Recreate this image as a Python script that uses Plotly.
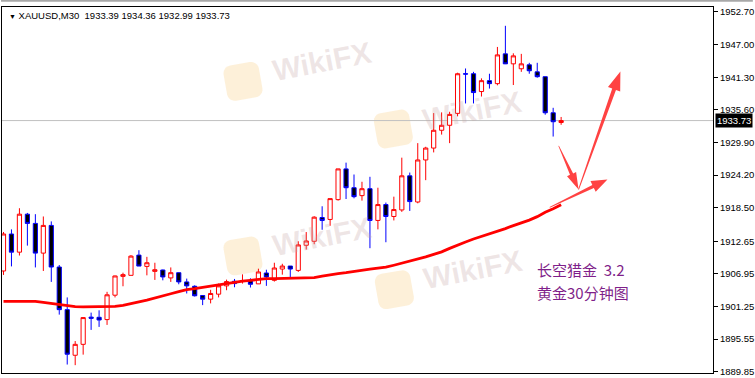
import math
import plotly.graph_objects as go

# ---------------- data ----------------
OPEN = [1907.46, 1913.92, 1910.75, 1917.38, 1915.77, 1910.58, 1915.42, 1908.15, 1900.71, 1892.74,
        1894.65, 1899.40, 1899.37, 1898.97, 1903.23, 1906.52, 1906.70, 1910.23, 1908.26, 1907.39,
        1907.63, 1906.25, 1907.16, 1905.55, 1904.79, 1903.18, 1902.54, 1903.41, 1904.86, 1905.66,
        1905.61, 1905.78, 1905.21, 1907.11, 1905.83, 1907.80, 1908.32, 1907.56, 1911.95, 1912.65,
        1916.80, 1916.46, 1919.92, 1925.29, 1922.00, 1920.62, 1921.83, 1916.29, 1919.06, 1916.98,
        1918.12, 1924.08, 1919.51, 1926.85, 1928.93, 1932.04, 1932.91, 1934.99, 1941.91, 1941.91,
        1938.80, 1940.70, 1940.18, 1945.38, 1943.64, 1942.78, 1943.47, 1942.24, 1941.39, 1935.09,
        1933.39]
HIGH = [1914.27, 1914.73, 1918.42, 1917.60, 1917.38, 1916.98, 1916.12, 1908.50, 1902.84, 1895.22,
        1899.40, 1900.19, 1900.59, 1903.82, 1906.65, 1907.16, 1910.23, 1911.09, 1909.93, 1908.90,
        1907.70, 1908.08, 1907.20, 1906.13, 1904.96, 1903.20, 1904.17, 1905.26, 1905.95, 1906.07,
        1906.87, 1906.18, 1907.86, 1907.68, 1908.90, 1908.72, 1908.32, 1912.65, 1914.26, 1917.03,
        1918.76, 1920.10, 1925.30, 1926.38, 1924.31, 1923.04, 1923.91, 1922.00, 1919.41, 1920.44,
        1927.25, 1924.65, 1929.79, 1929.15, 1935.04, 1935.16, 1935.27, 1942.09, 1942.83, 1942.24,
        1941.10, 1941.91, 1946.59, 1950.28, 1945.48, 1945.38, 1943.82, 1943.82, 1941.40, 1935.96,
        1934.36]
LOW = [1906.77, 1908.26, 1910.16, 1911.89, 1908.08, 1907.46, 1905.55, 1899.84, 1891.12, 1891.01,
       1892.85, 1897.17, 1897.69, 1898.04, 1902.84, 1904.79, 1906.70, 1908.32, 1906.70, 1905.90,
       1905.83, 1905.55, 1905.14, 1903.53, 1903.00, 1901.50, 1901.80, 1902.84, 1904.10, 1904.62,
       1905.26, 1904.57, 1905.20, 1904.86, 1905.61, 1906.82, 1906.30, 1907.29, 1911.20, 1912.13,
       1914.66, 1915.35, 1919.75, 1920.03, 1920.15, 1919.75, 1911.44, 1914.73, 1912.48, 1916.29,
       1917.78, 1917.95, 1919.28, 1923.32, 1928.17, 1931.28, 1929.79, 1934.47, 1936.72, 1936.72,
       1937.93, 1939.32, 1939.89, 1943.60, 1939.94, 1942.24, 1941.91, 1941.22, 1934.75, 1930.94,
       1932.99]
CLOSE = [1913.92, 1910.75, 1917.38, 1915.77, 1910.58, 1915.42, 1908.15, 1900.71, 1892.92, 1894.65,
         1899.32, 1899.20, 1898.90, 1903.30, 1906.59, 1906.82, 1910.06, 1908.32, 1908.90, 1907.68,
         1906.42, 1907.16, 1905.55, 1904.86, 1903.13, 1902.54, 1903.53, 1904.86, 1905.61, 1905.26,
         1905.78, 1905.14, 1907.29, 1906.42, 1907.98, 1908.32, 1907.80, 1912.01, 1912.70, 1916.86,
         1916.29, 1920.10, 1925.29, 1922.00, 1920.44, 1921.83, 1916.29, 1919.06, 1916.98, 1918.19,
         1924.08, 1919.58, 1926.85, 1928.93, 1932.04, 1932.91, 1934.81, 1941.91, 1941.85, 1938.62,
         1940.70, 1940.18, 1945.20, 1943.64, 1945.03, 1943.64, 1942.43, 1941.39, 1935.09, 1933.53,
         1933.73]
MA = [1902.14, 1902.14, 1902.14, 1902.14, 1902.14, 1901.97, 1901.80, 1901.57, 1901.36, 1901.23,
      1901.19, 1901.19, 1901.16, 1901.19, 1901.28, 1901.45, 1901.71, 1902.06, 1902.37, 1902.78,
      1903.13, 1903.48, 1903.87, 1904.22, 1904.39, 1904.62, 1904.86, 1905.09, 1905.35, 1905.48,
      1905.69, 1905.83, 1906.00, 1906.13, 1906.13, 1906.18, 1906.18, 1906.21, 1906.25, 1906.30,
      1906.56, 1906.82, 1906.99, 1907.16, 1907.39, 1907.60, 1907.77, 1907.94, 1908.12, 1908.46,
      1908.81, 1909.24, 1909.59, 1909.93, 1910.37, 1910.80, 1911.41, 1912.01, 1912.53, 1913.05,
      1913.48, 1914.00, 1914.44, 1914.87, 1915.39, 1915.82, 1916.34, 1916.95, 1917.73, 1918.33,
      1919.02]
BARS = list(range(len(OPEN)))

PRICE_TICKS = [1952.70, 1947.00, 1941.30, 1935.60, 1929.90, 1924.20, 1918.50,
               1912.65, 1906.95, 1901.25, 1895.55, 1889.85]
LAST_PRICE = 1933.73
HEADER = "XAUUSD,M30\u00a0\u00a01933.39 1934.36 1932.99 1933.73"
NOTE_LINE1 = "长空猎金\u00a0\u00a03.2"
NOTE_LINE2 = "黄金30分钟图"
WATERMARK = "WikiFX"

# ---------------- geometry helpers (decorations) ----------------
W, H = 755, 378
ML, MR, MT, MB = 1, 40, 7, 2
PW, PH = W - ML - MR, H - MT - MB


def px2paper(x, y):
    return (x - ML) / PW, (H - MB - y) / PH


def poly_path(points):
    pts = [px2paper(x, y) for x, y in points]
    return "M " + " L ".join(f"{a:.5f},{b:.5f}" for a, b in pts) + " Z"


def wedge(x0, y0, x1, y1, w0, w1, hl, hw):
    L = math.hypot(x1 - x0, y1 - y0)
    dx, dy = (x1 - x0) / L, (y1 - y0) / L
    nx, ny = -dy, dx
    bx, by = x1 - dx * hl, y1 - dy * hl
    return [
        (x0 + nx * w0 / 2, y0 + ny * w0 / 2),
        (bx + nx * w1 / 2, by + ny * w1 / 2),
        (bx + nx * hw, by + ny * hw),
        (x1, y1),
        (bx - nx * hw, by - ny * hw),
        (bx - nx * w1 / 2, by - ny * w1 / 2),
        (x0 - nx * w0 / 2, y0 - ny * w0 / 2),
    ]


def rounded_square(cx, cy, s, r, ang):
    pts = []
    h = s / 2 - r
    for (ox, oy, a0) in [(h, -h, -90), (h, h, 0), (-h, h, 90), (-h, -h, 180)]:
        for i in range(7):
            a = math.radians(a0 + i * 15)
            pts.append((ox + r * math.cos(a), oy + r * math.sin(a)))
    ca, sa = math.cos(math.radians(ang)), math.sin(math.radians(ang))
    return [(cx + x * ca - y * sa, cy + x * sa + y * ca) for x, y in pts]


# ---------------- figure ----------------
fig = go.Figure()

fig.add_trace(go.Candlestick(
    x=BARS, open=OPEN, high=HIGH, low=LOW, close=CLOSE,
    increasing=dict(line=dict(color="#FF0000", width=1), fillcolor="#FFFFFF"),
    decreasing=dict(line=dict(color="#0000FF", width=1), fillcolor="#000000"),
    whiskerwidth=0, showlegend=False, hoverinfo="skip",
))

fig.add_trace(go.Scatter(
    x=BARS, y=MA, mode="lines", line=dict(color="#FF0000", width=2.8),
    showlegend=False, hoverinfo="skip",
))

shapes = []
annotations = []

# watermarks
LOGOS = [((243, 82), (322, 62)), ((394, 130), (473, 111)),
         ((243, 258), (322, 238)), ((395, 292), (474, 272))]
for (icx, icy), (tcx, tcy) in LOGOS:
    shapes.append(dict(type="path", xref="paper", yref="paper", layer="below",
                       path=poly_path(rounded_square(icx, icy, 36, 8, -10)),
                       fillcolor="rgba(250,205,130,0.30)", line=dict(width=0)))
    tx, ty = px2paper(tcx, tcy)
    annotations.append(dict(text="<b>" + WATERMARK + "</b>", x=tx, y=ty, xref="paper", yref="paper",
                            showarrow=False, textangle=-11,
                            font=dict(family="Liberation Sans", size=30, color="rgba(195,165,165,0.28)"),
                            xanchor="center", yanchor="middle"))

# current price line
shapes.append(dict(type="line", xref="paper", yref="y", x0=0, x1=1,
                   y0=LAST_PRICE, y1=LAST_PRICE, line=dict(color="#C0C0C0", width=1), layer="below"))

# top frame bar
shapes.append(dict(type="rect", xref="paper", yref="paper",
                   x0=-ML / PW, x1=(W - ML) / PW, y0=1 + 5.2 / PH, y1=1 + MT / PH,
                   fillcolor="#A8A8A8", line=dict(width=0)))

# arrows
ARROWS = [
    ((560, 147), (580, 191), 0.6, 3.5, 17, 5),
    ((580, 191), (622, 72), 0.8, 4.0, 19, 6.5),
    ((551, 209), (609, 181), 0.6, 3.5, 16, 6),
]
for (x0, y0), (x1, y1), w0, w1, hl, hw in ARROWS:
    shapes.append(dict(type="path", xref="paper", yref="paper",
                       path=poly_path(wedge(x0, y0, x1, y1, w0, w1, hl, hw)),
                       fillcolor="rgba(255,50,50,0.92)", line=dict(width=0)))

# header
hx, hy = px2paper(6, 15.5)
annotations.append(dict(text="<span style='font-size:7px'>▼</span>\u00a0" + HEADER,
                        x=hx, y=hy, xref="paper", yref="paper", showarrow=False,
                        xanchor="left", yanchor="middle",
                        font=dict(family="Liberation Sans", size=9.5, color="#000000")))

# last price label
annotations.append(dict(text=f"{LAST_PRICE:.2f}", x=1, y=LAST_PRICE, xref="paper", yref="y",
                        xanchor="left", yanchor="middle", xshift=2, showarrow=False,
                        bgcolor="#000000", borderpad=1,
                        font=dict(family="Liberation Sans", size=9.5, color="#FFFFFF")))

# note text
for line_text, cy in [(NOTE_LINE1, 272), (NOTE_LINE2, 294.5)]:
    nx_, ny_ = px2paper(536, cy)
    annotations.append(dict(text=line_text, x=nx_, y=ny_, xref="paper", yref="paper",
                            showarrow=False, xanchor="left", yanchor="middle",
                            font=dict(family="Noto Sans CJK SC", size=15, color="#7F1F8A")))

y_lo = 1889.85 - 1.2 * 0.17314
y_hi = 1952.70 + 5 * 0.17314
x_lo = -0.1875
x_hi = x_lo + PW / 8.0

fig.update_layout(
    width=W, height=H,
    margin=dict(l=ML, r=MR, t=MT, b=MB, pad=0),
    paper_bgcolor="#FFFFFF", plot_bgcolor="#FFFFFF",
    boxgap=0.3, boxgroupgap=0.25,
    shapes=shapes, annotations=annotations,
    xaxis=dict(range=[x_lo, x_hi], showgrid=False, zeroline=False, showticklabels=False,
               ticks="", showline=True, mirror=True, linecolor="#000000", linewidth=1,
               rangeslider=dict(visible=False), fixedrange=True),
    yaxis=dict(range=[y_lo, y_hi], side="right", showgrid=False, zeroline=False,
               tickvals=PRICE_TICKS, ticktext=[f"{v:.2f}" for v in PRICE_TICKS],
               ticks="outside", ticklen=4, tickcolor="#000000", tickwidth=1,
               ticklabeloverflow="allow",
               showline=True, mirror=True, linecolor="#000000", linewidth=1,
               tickfont=dict(family="Liberation Sans", size=9.5, color="#000000"),
               fixedrange=True),
    hovermode=False,
)

fig.write_html("out.html")
